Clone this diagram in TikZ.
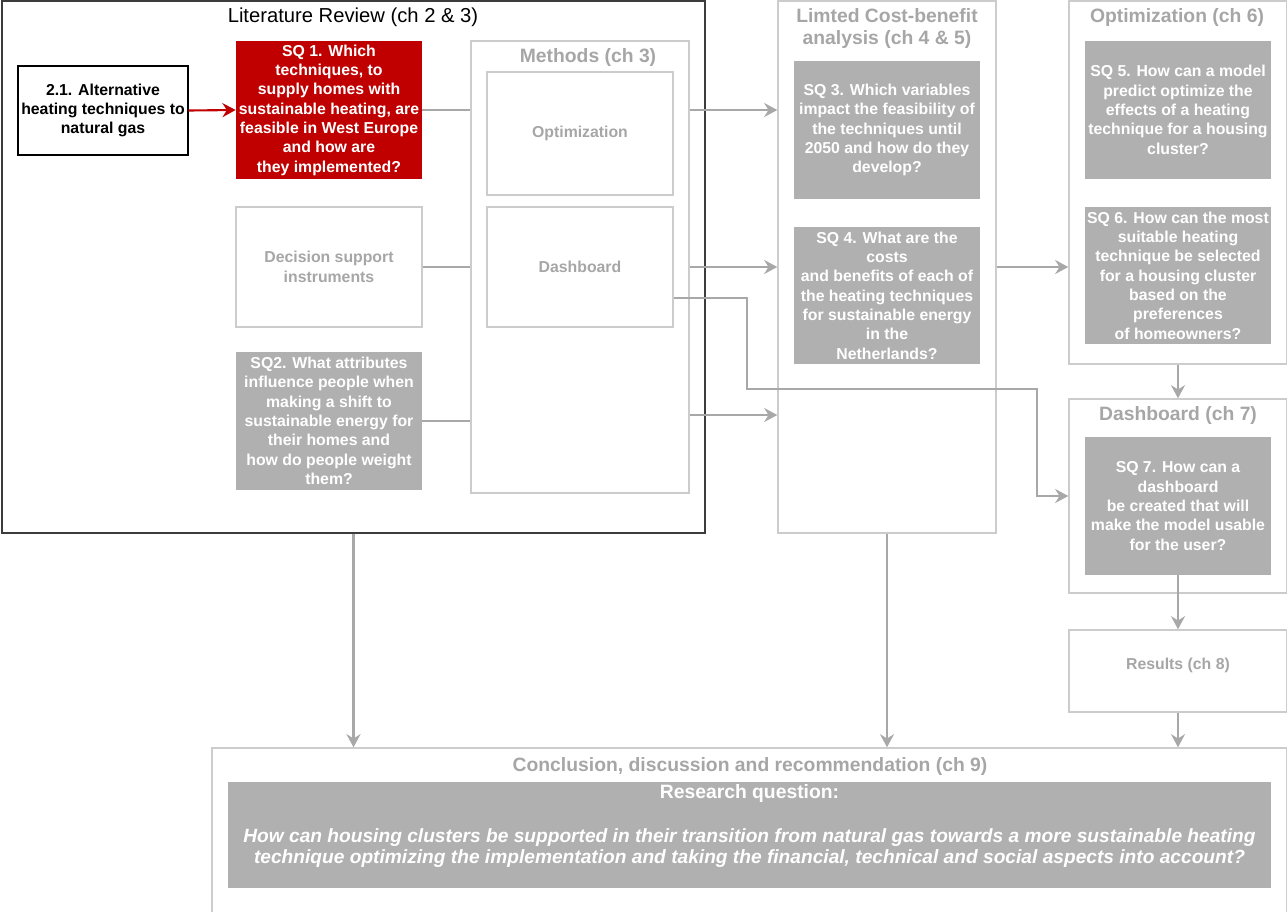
\documentclass[tikz,border=0pt]{standalone}
\usepackage{fontspec}
\setmainfont{Liberation Sans}
\usepackage{tikz}
\usetikzlibrary{calc,positioning}
\usetikzlibrary{arrows.meta}
\definecolor{darkred}{RGB}{192,0,0}
\definecolor{boxgrey}{RGB}{176,176,176}
\definecolor{linegrey}{RGB}{204,204,204}
\definecolor{titlegrey}{RGB}{166,166,166}
\definecolor{arrowgrey}{RGB}{168,168,168}
\definecolor{framedark}{RGB}{60,60,60}
\tikzset{
    % grey connectors
    greyarrow/.style={
        line width=1.2pt,
        arrowgrey,
        -{Stealth[length=7.5pt, width=8pt, inset=2.5pt]}
    },
    greyline/.style={
        line width=1.2pt,
        arrowgrey
    },
    redarrow/.style={
        line width=1.2pt,
        darkred,
        -{Stealth[length=7.5pt, width=8pt, inset=2.5pt]}
    },
    % boxes
    sqbox/.style={
        fill=boxgrey, text=white, inner sep=0pt,
        minimum width=3.72cm, minimum height=2.76cm, align=center,
        font=\fontsize{9}{11}\selectfont\bfseries
    },
    methbox/.style={
        draw=linegrey, line width=0.8pt, text=titlegrey, inner sep=0pt,
        minimum width=3.72cm, minimum height=2.4cm, align=center,
        font=\fontsize{9}{11}\selectfont\bfseries
    },
    groupbox/.style={
        draw=linegrey, line width=0.8pt, inner sep=0pt
    },
    grouptitle/.style={
        text=titlegrey, align=center,
        font=\fontsize{11}{13}\selectfont\bfseries
    }
}

\begin{document}
\begin{tikzpicture}
            \useasboundingbox (0,0) rectangle (25.74,-18.24);

            % Literature review
            \node[draw=framedark, line width=0.7pt, inner sep=0pt, minimum width=14.06cm, minimum height=10.64cm] (lit) at (7.07,-5.34) {};
            \node[font=\fontsize{11.5}{13}\selectfont] (littitle) at (7.06,-0.34) {Literature Review (ch 2 \& 3)};
            \node[draw=black, line width=0.7pt, inner sep=0pt, minimum width=3.4cm, minimum height=1.78cm, align=center, font=\fontsize{9}{11}\selectfont\bfseries] (alt) at (2.06,-2.21) {2.1. Alternative\\heating techniques to\\natural gas};
            \node[sqbox, fill=darkred] (sq1) at (6.58,-2.2) {SQ 1. Which\\techniques, to\\supply homes with\\sustainable heating, are\\feasible in West Europe\\and how are\\they implemented?};
            \node[methbox] (dsi) at (6.58,-5.34) {Decision support\\instruments};
            \node[sqbox] (sq2) at (6.58,-8.42) {SQ2. What attributes\\influence people when\\making a shift to\\sustainable energy for\\their homes and\\how do people weight\\them?};

            % Methods
            \node[groupbox, minimum width=4.36cm, minimum height=9.04cm] (meth) at (11.6,-5.34) {};
            \node[grouptitle] (methtitle) at (11.76,-1.14) {Methods (ch 3)};
            \node[methbox, minimum height=2.46cm] (mopt) at (11.6,-2.67) {Optimization};
            \node[methbox] (mdash) at (11.6,-5.34) {Dashboard};

            % Limited cost-benefit
            \node[groupbox, minimum width=4.36cm, minimum height=10.64cm] (lcb) at (17.74,-5.34) {};
            \node[grouptitle] (lcbtitle) at (17.74,-0.57) {Limted Cost-benefit\\analysis (ch 4 \& 5)};
            \node[sqbox] (sq3) at (17.74,-2.6) {SQ 3. Which variables\\impact the feasibility of\\the techniques until\\2050 and how do they\\develop?};
            \node[sqbox, minimum height=2.74cm] (sq4) at (17.74,-5.91) {SQ 4. What are the\\costs\\and benefits of each of\\the heating techniques\\for sustainable energy\\in the\\Netherlands?};

            % Optimization
            \node[groupbox, minimum width=4.36cm, minimum height=7.26cm] (opt) at (23.56,-3.65) {};
            \node[grouptitle] (opttitle) at (23.54,-0.36) {Optimization (ch 6)};
            \node[sqbox] (sq5) at (23.56,-2.2) {SQ 5. How can a model\\predict optimize the\\effects of a heating\\technique for a housing\\cluster?};
            \node[sqbox, minimum height=2.74cm] (sq6) at (23.56,-5.51) {SQ 6. How can the most\\suitable heating\\technique be selected\\for a housing cluster\\based on the\\preferences\\of homeowners?};

            % Dashboard and results
            \node[groupbox, minimum width=4.36cm, minimum height=3.88cm] (dash) at (23.56,-9.92) {};
            \node[grouptitle] (dashtitle) at (23.56,-8.3) {Dashboard (ch 7)};
            \node[sqbox] (sq7) at (23.56,-10.12) {SQ 7. How can a\\dashboard\\be created that will\\make the model usable\\for the user?};
            \node[methbox, minimum width=4.36cm, minimum height=1.64cm] (res) at (23.56,-13.42) {Results (ch 8)\\[-3pt]\mbox{}};

            % Conclusion
            \node[groupbox, minimum width=21.5cm, minimum height=3.4cm] (concl) at (14.99,-16.66) {};
            \node[text=titlegrey, font=\fontsize{11}{13}\selectfont\bfseries] (concltitle) at (15.0,-15.32) {Conclusion, discussion and recommendation (ch 9)};
            \node[sqbox, minimum width=20.86cm, minimum height=2.12cm, font=\fontsize{10.9}{12.5}\selectfont\bfseries] (rq) at (14.99,-16.7)
                {{\fontsize{11}{12.5}\selectfont Research question:}\\ \mbox{}\\
                 \itshape How can housing clusters be supported in their transition from natural gas towards a more sustainable heating\\
                 \itshape technique optimizing the implementation and taking the financial, technical and social aspects into account?\\ \mbox{}};

            % connectors
            \draw[redarrow] (alt.east) -- (sq1.west);
            \draw[greyline] (sq1.east) -- (sq1.east -| meth.west);
            \draw[greyline] (dsi.east) -- (dsi.east -| meth.west);
            \draw[greyline] (sq2.east) -- (sq2.east -| meth.west);

            \draw[greyarrow] (meth.east |- sq1.east) -- (lcb.west |- sq1.east);
            \draw[greyarrow] (meth.east) -- (lcb.west);
            \draw[greyarrow] ($(meth.east)+(0,-2.96)$) -- ($(lcb.west)+(0,-2.96)$);

            \coordinate (bend) at (20.74,-7.78);
            \draw[greyarrow] ($(mdash.east)+(0,-0.62)$) -- ++(1.46,0) |- (bend) |- (dash.west);

            \draw[greyarrow] (lcb.east) -- (lcb.east -| opt.west);
            \draw[greyarrow] (opt.south) -- (dash.north);
            \draw[greyarrow] (sq7.south) -- (res.north);
            \draw[greyarrow] (res.south) -- (res.south |- concl.north);
            \draw[greyarrow] (lit.south) -- (lit.south |- concl.north);
            \draw[greyarrow] (lcb.south) -- (lcb.south |- concl.north);

        \end{tikzpicture}
\end{document}
